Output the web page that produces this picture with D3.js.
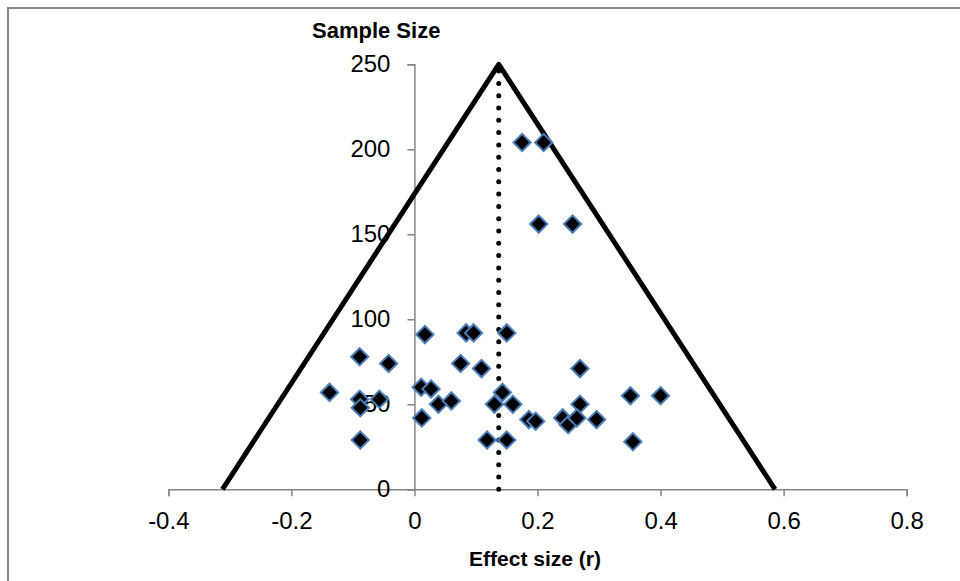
<!DOCTYPE html>
<html>
<head>
<meta charset="utf-8">
<script src="https://cdn.jsdelivr.net/npm/d3@7"></script>
<style>
  body { margin: 0; background: #fff; }
  .tick text { font-family: "Liberation Sans", Arial, sans-serif; fill: #000; }
  .axis-title { font-family: "Liberation Sans", Arial, sans-serif; font-weight: bold; }
</style>
</head>
<body>
<div class="funnel"></div>
<script>
// study effect sizes (r) and sample sizes
var effectSize = [0.017, 0.084, 0.096, 0.150, -0.089, -0.042, 0.075, 0.109, -0.138, 0.011,
  0.027, -0.089, -0.088, -0.057, 0.039, 0.060, 0.012, -0.088, 0.143, 0.130,
  0.160, 0.118, 0.150, 0.186, 0.197, 0.269, 0.269, 0.241, 0.250, 0.264,
  0.296, 0.351, 0.400, 0.355, 0.175, 0.210, 0.202, 0.257];
var sampleSize = [91, 92, 92, 92, 78, 74, 74, 71, 57, 60,
  59, 53, 48, 53, 50, 52, 42, 29, 57, 50,
  50, 29, 29, 41, 40, 71, 50, 42, 38, 42,
  41, 55, 55, 28, 204, 204, 156, 156];

// funnel outline and mean effect line
var funnelX = [-0.312, 0.137, 0.586];
var funnelY = [0, 250, 0];
var meanX = [0.137, 0.137];
var meanY = [0, 250];

var xTicks = [-0.4, -0.2, 0, 0.2, 0.4, 0.6, 0.8];
var xTickLabels = ["-0.4", "-0.2", "0", "0.2", "0.4", "0.6", "0.8"];
var yTicks = [0, 50, 100, 150, 200, 250];

(function() {
  'use strict';

  var width = 960;
  var height = 581;

  var svg = d3.select(".funnel").append("svg")
    .attr("width", width)
    .attr("height", height);

  // chart area border (runs off the right and bottom edges)
  svg.append("rect")
    .attr("x", 8)
    .attr("y", 8)
    .attr("width", 1000)
    .attr("height", 700)
    .attr("fill", "none")
    .attr("stroke", "#898989")
    .attr("stroke-width", 2);

  var x = d3.scaleLinear().domain([-0.4, 0.8]).range([168.3, 906.7]);
  var y = d3.scaleLinear().domain([0, 250]).range([489.3, 64.3]);

  var xAxis = svg.append("g")
    .attr("transform", "translate(0," + y(0) + ")")
    .call(d3.axisBottom(x).tickValues(xTicks).tickSize(7).tickPadding(16)
      .tickFormat(function(d, i) { return xTickLabels[i]; }));

  var yAxis = svg.append("g")
    .attr("transform", "translate(" + x(0) + ",0)")
    .call(d3.axisLeft(y).tickValues(yTicks).tickSize(7).tickPadding(17));

  [xAxis, yAxis].forEach(function(a) {
    a.select(".domain").attr("stroke", "#868686").attr("stroke-width", 1.5);
    a.selectAll(".tick line").attr("stroke", "#868686").attr("stroke-width", 1.5);
    a.selectAll(".tick text").style("font-size", "24px");
  });

  var line = d3.line()
    .x(function(d) { return x(d[0]); })
    .y(function(d) { return y(d[1]); });

  svg.append("path")
    .attr("d", line(d3.zip(funnelX, funnelY)))
    .attr("fill", "none")
    .attr("stroke", "#000")
    .attr("stroke-width", 5)
    .attr("stroke-linejoin", "round");

  svg.append("path")
    .attr("d", line(d3.zip(meanX, meanY)))
    .attr("stroke", "#000")
    .attr("stroke-width", 5)
    .attr("stroke-linecap", "round")
    .attr("stroke-dasharray", "0,12.3");

  var diamond = d3.symbol().type(d3.symbolSquare).size(150);

  svg.selectAll(".pt")
    .data(d3.zip(effectSize, sampleSize))
    .enter().append("path")
    .attr("class", "pt")
    .attr("d", diamond)
    .attr("transform", function(d) {
      return "translate(" + x(d[0]) + "," + y(d[1]) + ") rotate(45)";
    })
    .attr("fill", "#000")
    .attr("stroke", "#4a7ebb")
    .attr("stroke-width", 2);

  svg.append("text")
    .attr("class", "axis-title")
    .attr("x", 312)
    .attr("y", 38)
    .style("font-size", "22px")
    .text("Sample Size");

  svg.append("text")
    .attr("class", "axis-title")
    .attr("x", 535)
    .attr("y", 566)
    .attr("text-anchor", "middle")
    .style("font-size", "21px")
    .text("Effect size (r)");
})();
</script>
</body>
</html>
